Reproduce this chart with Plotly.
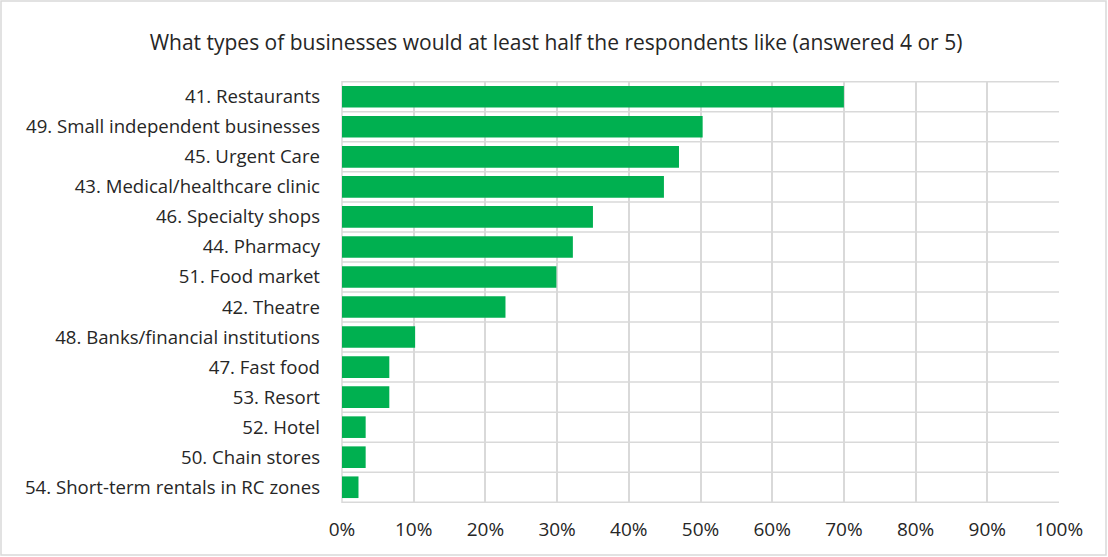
import plotly.graph_objects as go

categories = [
    "41. Restaurants",
    "49. Small independent businesses",
    "45. Urgent Care",
    "43. Medical/healthcare clinic",
    "46. Specialty shops",
    "44. Pharmacy",
    "51. Food market",
    "42. Theatre",
    "48. Banks/financial institutions",
    "47. Fast food",
    "53. Resort",
    "52. Hotel",
    "50. Chain stores",
    "54. Short-term rentals in RC zones",
]
values = [0.700, 0.503, 0.470, 0.449, 0.350, 0.322, 0.299, 0.228, 0.102, 0.066, 0.066, 0.033, 0.033, 0.023]
x_ticks = [0, 0.1, 0.2, 0.3, 0.4, 0.5, 0.6, 0.7, 0.8, 0.9, 1.0]
x_tick_labels = ["0%", "10%", "20%", "30%", "40%", "50%", "60%", "70%", "80%", "90%", "100%"]
title = "What types of businesses would at least half the respondents like (answered 4 or 5)"

W, H = 1108, 557
ml, mr, mt, mb = 342, 49, 81, 54
pw, ph = W - ml - mr, H - mt - mb

fig = go.Figure(go.Bar(
    x=values, y=categories, orientation="h",
    marker=dict(color="#00B050", line=dict(width=0)),
    hoverinfo="x+y",
))

font_family = "'Open Sans', 'Noto Sans', sans-serif"
fig.update_layout(
    width=W, height=H,
    margin=dict(l=ml, r=mr, t=mt, b=mb, autoexpand=False),
    paper_bgcolor="white", plot_bgcolor="white",
    bargap=0.28,
    font=dict(family=font_family, size=18.6, color="#262626"),
    title=dict(text=title, x=556 / W, xanchor="center", y=1 - 43 / H, yanchor="middle",
               font=dict(family=font_family, size=21, color="#262626")),
    showlegend=False,
    xaxis=dict(range=[0, 1.0], tickvals=x_ticks, ticktext=x_tick_labels,
               showgrid=True, gridcolor="#D9D9D9", gridwidth=1.5, automargin=False,
               zeroline=False, showline=False, ticks="", ticklabelstandoff=13,
               tickfont=dict(size=19), fixedrange=True),
    yaxis=dict(autorange="reversed", showgrid=False, automargin=False,
               showline=False, ticks="", ticklabelstandoff=21,
               tickfont=dict(size=18.6), fixedrange=True),
    shapes=[
        *[dict(type="line", xref="paper", yref="y", x0=0, x1=1, y0=i - 0.5, y1=i - 0.5,
               line=dict(color="#D9D9D9", width=1.5), layer="below")
          for i in range(len(categories) + 1)],
        dict(type="line", xref="paper", yref="paper", x0=0, x1=0, y0=0, y1=1,
             line=dict(color="#D9D9D9", width=1.5), layer="below"),
        dict(type="rect", xref="paper", yref="paper",
             x0=(1 - ml) / pw, x1=(W - 2 - ml) / pw,
             y0=(ph + mt - (H - 2)) / ph, y1=(ph + mt - 1) / ph,
             line=dict(color="#D9D9D9", width=1.5)),
    ],
)

fig.write_html("out.html", config={"displayModeBar": False},
               post_script="document.body.style.margin='0';document.body.style.overflow='hidden';")
